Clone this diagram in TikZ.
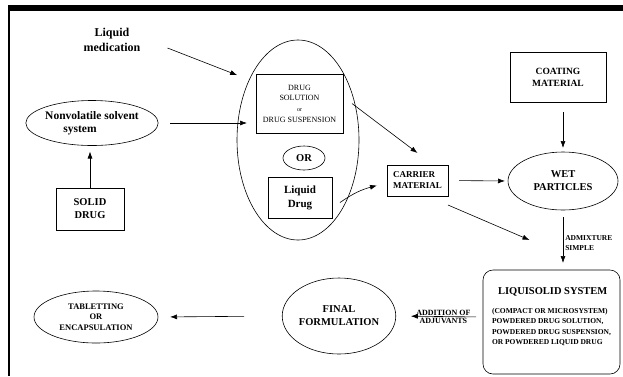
\documentclass[tikz,border=0pt]{standalone}
\usepackage{fontspec}
\setmainfont{Liberation Serif}
\usetikzlibrary{shapes.geometric,arrows.meta}
\begin{document}
\begin{tikzpicture}[x=1pt,y=-1pt,
  arr/.style={-{Latex[length=7pt,width=5pt]}, line width=0.6pt},
  box/.style={draw, line width=0.6pt, rectangle, inner sep=0pt, outer sep=0pt, align=center},
  oval/.style={draw, line width=0.6pt, ellipse, inner sep=0pt, outer sep=0pt, align=center},
  lab/.style={align=center, inner sep=0pt}]
\useasboundingbox (0,0) rectangle (623,376);
\fill (8,5) rectangle (623,11);
\draw[line width=1.2pt] (9,5) -- (9,376);

\node[lab, font=\bfseries\fontsize{12}{15}\selectfont] (lm) at (112,40) {Liquid\\medication};
\node[oval, minimum width=122pt, minimum height=200pt] (big) at (298,140) {};
\node[box, minimum width=87pt, minimum height=59pt, font=\fontsize{8}{10.7}\selectfont] (dsol) at (299.5,103.5) {DRUG\\SOLUTION\\{\fontsize{6}{10.7}\selectfont or}\\DRUG SUSPENSION};
\node[oval, minimum width=42pt, minimum height=24pt, font=\bfseries\fontsize{10.5}{12}\selectfont] (or) at (304,158) {OR};
\node[box, minimum width=64pt, minimum height=41pt, font=\bfseries\fontsize{11}{14}\selectfont] (ld) at (300,197.5) {Liquid\\Drug};
\node[box, align=left, minimum width=61pt, minimum height=31pt, font=\bfseries\fontsize{9}{11}\selectfont] (cm) at (417.5,180.5) {CARRIER\\MATERIAL};
\node[oval, minimum width=118pt, minimum height=45pt, font=\bfseries\fontsize{11.5}{13.5}\selectfont] (nv) at (92,123) {Nonvolatile solvent\\system\hspace*{24pt}};
\node[box, minimum width=68pt, minimum height=42pt, font=\bfseries\fontsize{10.5}{13}\selectfont] (sd) at (90,209) {SOLID\\DRUG};
\node[box, minimum width=96pt, minimum height=50pt, font=\bfseries\fontsize{9.5}{12}\selectfont] (coat) at (558,77) {COATING\\MATERIAL};
\node[oval, minimum width=110pt, minimum height=58pt, font=\bfseries\fontsize{10.5}{13}\selectfont] (wet) at (563,181) {WET\\PARTICLES};
\node[box, rounded corners=10pt, minimum width=137pt, minimum height=104pt, align=left, font=\bfseries\fontsize{7.5}{10.3}\selectfont] (liq) at (551.5,322)
  {\hspace*{6pt}{\fontsize{10.5}{13}\selectfont LIQUISOLID SYSTEM}\\[9pt]
   (COMPACT OR MICROSYSTEM)\\POWDERED DRUG SOLUTION,\\POWDERED DRUG SUSPENSION,\\OR POWDERED LIQUID DRUG\\[2pt]};
\node[oval, minimum width=102pt, minimum height=76pt, font=\bfseries\fontsize{10.5}{13}\selectfont] (ff) at (339,316) {FINAL\\FORMULATION};
\node[oval, minimum width=124pt, minimum height=52pt, font=\bfseries\fontsize{8.5}{10.5}\selectfont] (tab) at (96,317) {TABLETTING\\OR\\ENCAPSULATION};

% connectors
\draw[arr, shorten >=13pt] ([shift={(27pt,-8pt)}]lm.east) -- (big.129);
\draw[arr, shorten <=12pt] (nv.east) -- ([xshift=10pt]big.west |- nv.east);
\draw[arr, shorten >=6pt] (sd.north) -- (sd.north |- nv.south);
\draw[arr] ([xshift=9pt]dsol.east) -- ([yshift=12pt]cm.north);
\draw[arr] ([shift={(8pt,-5pt)}]ld.east) to[bend left=10] ([shift={(-10pt,-5pt)}]cm.west);
\draw[arr, shorten <=11pt, shorten >=3pt] (cm.east) -- (wet.west);
\draw[arr] ([yshift=-9pt]cm.south east) -- ([shift={(-22pt,30pt)}]liq.north);
\draw[arr, shorten <=10pt, shorten >=4pt] ([xshift=5pt]coat.south) -- (wet.north);
\draw[arr, shorten <=7pt, shorten >=7pt] (wet.south) -- (wet.south |- liq.north)
  node[midway, right, align=left, inner sep=2pt, yshift=-3pt, font=\bfseries\fontsize{7.5}{10}\selectfont] (admix) {ADMIXTURE\\SIMPLE};
\draw[arr, shorten <=7pt, shorten >=15pt] ([yshift=5pt]liq.west) -- (ff.east)
  node[midway, above, inner sep=0.5pt, xshift=4pt, font=\bfseries\fontsize{8}{10}\selectfont] (addof) {ADDITION OF}
  node[midway, below, inner sep=1.5pt, xshift=4pt, font=\bfseries\fontsize{8}{10}\selectfont] (adjuv) {ADJUVANTS};
\draw[arr, shorten <=38pt, shorten >=12pt] (ff.west) -- (tab.east);
\end{tikzpicture}
\end{document}
